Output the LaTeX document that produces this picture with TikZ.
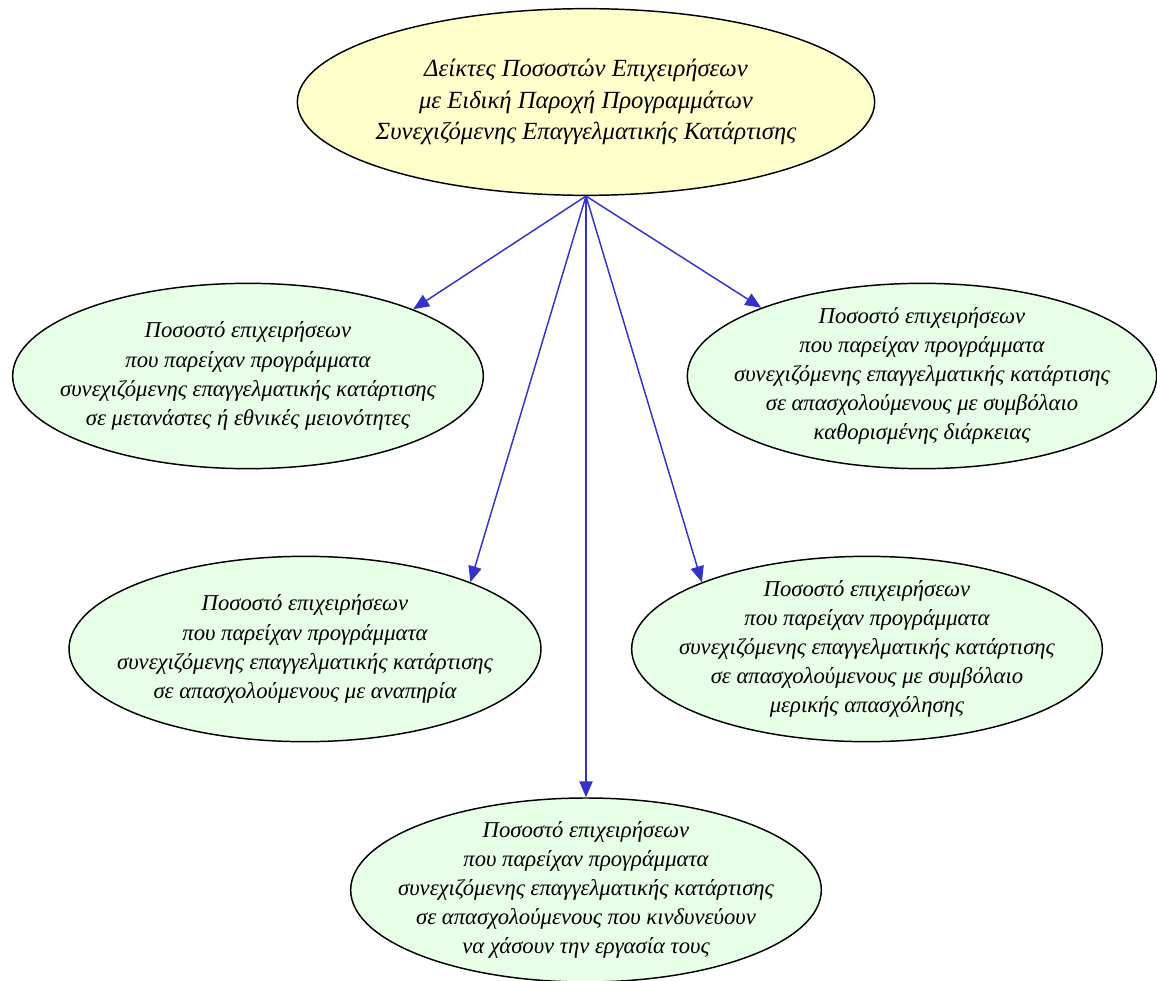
\documentclass[tikz,border=0pt]{standalone}
\usepackage{fontspec}
\setmainfont{Liberation Serif}
\usetikzlibrary{arrows.meta,shapes.geometric}

\definecolor{topfill}{HTML}{FFFFCC}
\definecolor{leaffill}{HTML}{E6FFE6}
\definecolor{edgeblue}{HTML}{3333CC}

\tikzset{
  oval/.style={ellipse, draw=black, line width=1.1pt, inner sep=-40pt,
    align=center, font=\itshape\fontsize{17}{21.8}\selectfont},
  link/.style={draw=edgeblue, line width=1.1pt, -{Triangle[length=12pt,width=10pt]}}
}

\begin{document}
\begin{tikzpicture}[x=0.75pt,y=-0.75pt]
\useasboundingbox (0,0) rectangle (1157,981);

% Root
\node[oval, fill=topfill, minimum width=433pt, minimum height=140pt,
  font=\itshape\fontsize{18.5}{23.6}\selectfont] (root) at (586,102)
  {Δείκτες Ποσοστών Επιχειρήσεων\\με Ειδική Παροχή Προγραμμάτων\\Συνεχιζόμενης Επαγγελματικής Κατάρτισης};

% Leaves
\node[oval, fill=leaffill, minimum width=353pt, minimum height=139pt] (migr) at (248,376)
  {Ποσοστό επιχειρήσεων\\που παρείχαν προγράμματα\\συνεχιζόμενης επαγγελματικής κατάρτισης\\σε μετανάστες ή εθνικές μειονότητες};
\node[oval, fill=leaffill, minimum width=352pt, minimum height=139pt] (fixed) at (922,376)
  {Ποσοστό επιχειρήσεων\\που παρείχαν προγράμματα\\συνεχιζόμενης επαγγελματικής κατάρτισης\\σε απασχολούμενους με συμβόλαιο\\καθορισμένης διάρκειας};
\node[oval, fill=leaffill, minimum width=354pt, minimum height=139pt] (disab) at (305,649)
  {Ποσοστό επιχειρήσεων\\που παρείχαν προγράμματα\\συνεχιζόμενης επαγγελματικής κατάρτισης\\σε απασχολούμενους με αναπηρία};
\node[oval, fill=leaffill, minimum width=353pt, minimum height=139pt] (part) at (867,649)
  {Ποσοστό επιχειρήσεων\\που παρείχαν προγράμματα\\συνεχιζόμενης επαγγελματικής κατάρτισης\\σε απασχολούμενους με συμβόλαιο\\μερικής απασχόλησης};
\node[oval, fill=leaffill, minimum width=353pt, minimum height=138pt] (risk) at (586,890)
  {Ποσοστό επιχειρήσεων\\που παρείχαν προγράμματα\\συνεχιζόμενης επαγγελματικής κατάρτισης\\σε απασχολούμενους που κινδυνεύουν\\να χάσουν την εργασία τους};

% Links
\draw[link] (root.south) -- (migr.22);
\draw[link] (root.south) -- (fixed.157);
\draw[link] (root.south) -- (disab.22);
\draw[link] (root.south) -- (part.158);
\draw[link] (root.south) -- (risk.north);
\end{tikzpicture}
\end{document}
